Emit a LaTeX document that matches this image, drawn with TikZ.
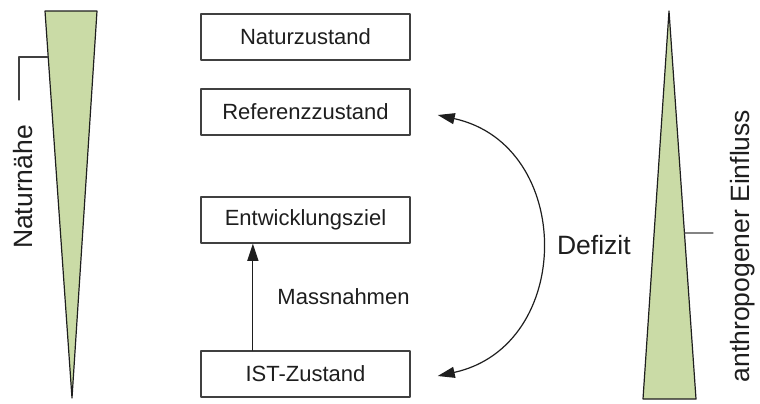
\documentclass[tikz,border=0pt]{standalone}
\usepackage{fontspec}
\setmainfont{Liberation Sans}
\usetikzlibrary{arrows.meta,calc,positioning}
\definecolor{wedge}{HTML}{CADBA6}
\definecolor{ink}{HTML}{1E1E1E}
\definecolor{frame}{HTML}{404040}
\tikzset{
  >={Triangle[length=8.5pt,width=5.5pt]},
  zbox/.style={draw=frame,line width=0.75pt,minimum width=104.5pt,
               minimum height=23pt,inner sep=0pt,text=ink,
               font=\fontsize{11}{13}\selectfont},
  arrow/.style={line width=0.6pt,draw=ink},
  leader/.style={draw=frame,line width=0.6pt},
  wedgefill/.style={fill=wedge,draw=ink,line width=0.6pt},
  sidelabel/.style={rotate=90,inner sep=0pt,text=ink,
                    font=\fontsize{13.25}{15}\selectfont},
  steplabel/.style={inner sep=0pt,text=ink,font=\fontsize{11}{13}\selectfont}
}

\begin{document}
\begin{tikzpicture}[x=0.5pt,y=-0.5pt,line cap=round,line join=round]
  \useasboundingbox (0,0) rectangle (760,403);

  % Naturnaehe wedge
  \coordinate (nwl) at (45,11);
  \coordinate (nwr) at (97,11);
  \coordinate (nwt) at (72,398);
  \draw[wedgefill] (nwl)--(nwr)--(nwt)--cycle;
  \coordinate (nwk) at ($(nwl)!0.119!(nwt)$);
  \coordinate (nwe) at (19,100);
  \draw[leader] (nwk) -| (nwe);
  \node[sidelabel] (naturnaehe) at (23,187) {Naturnähe};

  % states
  \node[zbox] (natur) at (305.5,37)  {Naturzustand};
  \node[zbox] (ref)   at (305.5,112) {Referenzzustand};
  \node[zbox] (ent)   at (305.5,220) {Entwicklungsziel};
  \node[zbox] (ist)   at (305.5,374) {IST-Zustand};

  \draw[arrow,->] ($(ist.north west)!0.25!(ist.north east)$) --
    ($(ent.south west)!0.25!(ent.south east)$)
    node[midway,right=12pt,steplabel] (mass) {Massnahmen};

  % Defizit
  \coordinate (defa) at ([xshift=13.5pt,yshift=-1.5pt]ref.east);
  \coordinate (defb) at ([xshift=13.5pt,yshift=-1pt]ist.east);
  \draw[arrow,<->] (defa) .. controls +(137,30) and +(137,-30) .. (defb)
    node[pos=0.5,right=8pt,sidelabel,rotate=-90] (defizit) {Defizit};

  % anthropogener Einfluss wedge
  \coordinate (ewl) at (643,399);
  \coordinate (ewr) at (696,399);
  \coordinate (ewt) at (669,11);
  \draw[wedgefill] (ewt)--(ewr)--(ewl)--cycle;
  \coordinate (ewk) at ($(ewt)!0.572!(ewr)$);
  \coordinate (ewe) at (713,233);
  \draw[leader] (ewk) -- (ewe);
  \node[sidelabel] (einfluss) at (743,246) {anthropogener Einfluss};
\end{tikzpicture}
\end{document}
